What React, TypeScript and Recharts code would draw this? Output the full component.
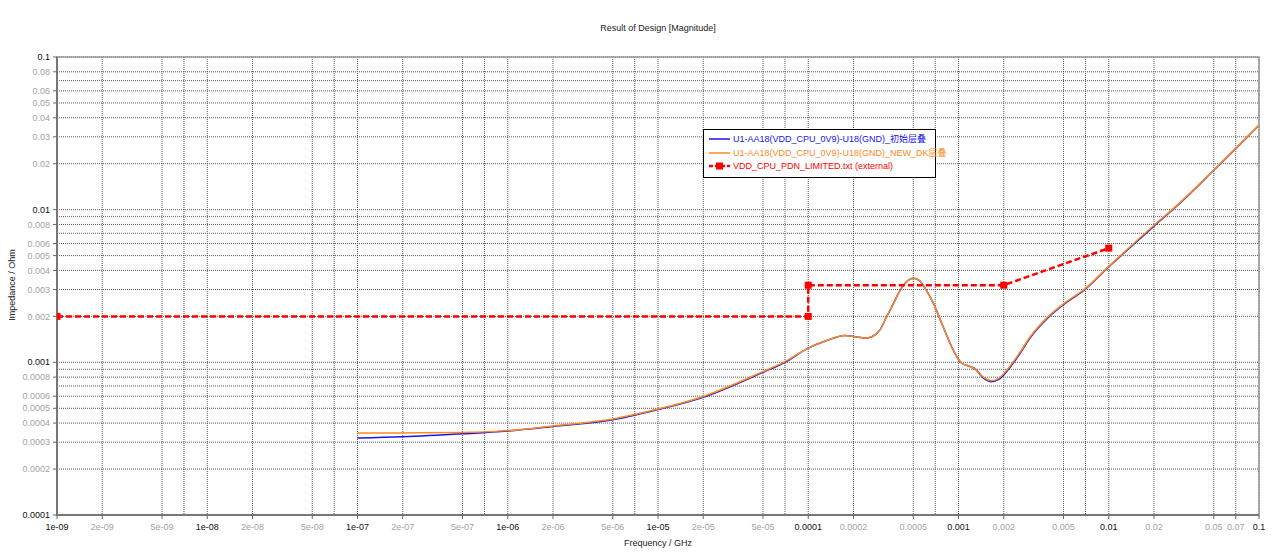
import React from "react";
import { LineChart, Line, XAxis, YAxis, CartesianGrid, Legend, ReferenceArea } from "recharts";

// frequency points (GHz) shared by both simulated curves
const FREQ = [
  1e-7, 2e-7, 5e-7, 1e-6, 2e-6, 5e-6, 1e-5, 2e-5, 5e-5, 7e-5,
  1e-4, 1.33e-4, 1.75e-4, 2.05e-4, 2.4e-4, 2.65e-4, 3e-4, 3.3e-4, 3.6e-4, 4.1e-4, 4.6e-4,
  5e-4, 5.5e-4, 6e-4, 6.8e-4, 7.9e-4, 9.2e-4, 1.05e-3, 1.2e-3, 1.3e-3, 1.45e-3,
  1.66e-3, 1.85e-3, 2.1e-3, 2.5e-3, 3e-3, 3.9e-3, 5.2e-3, 6.8e-3, 1e-2, 1.6e-2,
  2e-2, 3e-2, 5e-2, 7e-2, 1e-1,
];

// U1-AA18(VDD_CPU_0V9)-U18(GND)_初始层叠
const Z_INITIAL = [
  0.000319, 0.000325, 0.00034, 0.000355, 0.00038, 0.00042, 0.00049, 0.00059, 0.00086, 0.001,
  0.00124, 0.00139, 0.0015, 0.00147, 0.00144, 0.00147, 0.00163, 0.00196, 0.00231, 0.00298, 0.00343,
  0.00355, 0.00343, 0.00305, 0.00244, 0.00171, 0.00121, 0.000986, 0.000937, 0.0009, 0.000795,
  0.000745, 0.000772, 0.000875, 0.0011, 0.00145, 0.00194, 0.00246, 0.00295, 0.00422, 0.0064,
  0.0078, 0.0111, 0.0181, 0.0251, 0.0357,
];

// U1-AA18(VDD_CPU_0V9)-U18(GND)_NEW_DK层叠
const Z_NEW_DK = [
  0.000344, 0.000345, 0.000347, 0.000357, 0.000383, 0.000426, 0.000494, 0.000598, 0.00087, 0.00101,
  0.00124, 0.00139, 0.0015, 0.00147, 0.00144, 0.00147, 0.00163, 0.00196, 0.00231, 0.00298, 0.00343,
  0.00355, 0.00343, 0.00305, 0.00244, 0.00171, 0.00121, 0.000986, 0.000937, 0.0009, 0.000805,
  0.000758, 0.000785, 0.000891, 0.00112, 0.00147, 0.00197, 0.00249, 0.00298, 0.00425, 0.0065,
  0.0079, 0.0112, 0.0182, 0.0252, 0.0358,
];

// VDD_CPU_PDN_LIMITED.txt (external)
const LIMIT_FREQ = [1e-9, 1e-4, 1e-4, 2e-3, 1e-2];
const LIMIT_Z = [0.002, 0.002, 0.0032, 0.0032, 0.0056];

const SERIES_NAMES = [
  "U1-AA18(VDD_CPU_0V9)-U18(GND)_初始层叠",
  "U1-AA18(VDD_CPU_0V9)-U18(GND)_NEW_DK层叠",
  "VDD_CPU_PDN_LIMITED.txt (external)",
];
const SERIES_COLORS = ["#1515ee", "#ff8a1e", "#ff0000"];

// grid positions; "" = grid line without label
const X_TICKS = [
  1e-9, 2e-9, 5e-9, 7e-9, 1e-8, 2e-8, 5e-8, 7e-8, 1e-7, 2e-7, 5e-7, 7e-7,
  1e-6, 2e-6, 5e-6, 7e-6, 1e-5, 2e-5, 5e-5, 7e-5, 1e-4, 2e-4, 5e-4, 7e-4,
  1e-3, 2e-3, 5e-3, 7e-3, 1e-2, 2e-2, 5e-2, 7e-2, 1e-1,
];
const X_TICK_LABELS = [
  "1e-09", "2e-09", "5e-09", "", "1e-08", "2e-08", "5e-08", "", "1e-07", "2e-07", "5e-07", "",
  "1e-06", "2e-06", "5e-06", "", "1e-05", "2e-05", "5e-05", "", "0.0001", "0.0002", "0.0005", "",
  "0.001", "0.002", "0.005", "", "0.01", "0.02", "0.05", "0.07", "0.1",
];
const Y_TICKS = [
  1e-4, 2e-4, 3e-4, 4e-4, 5e-4, 6e-4, 7e-4, 8e-4, 9e-4,
  1e-3, 2e-3, 3e-3, 4e-3, 5e-3, 6e-3, 7e-3, 8e-3, 9e-3,
  1e-2, 2e-2, 3e-2, 4e-2, 5e-2, 6e-2, 7e-2, 8e-2, 1e-1,
];
const Y_TICK_LABELS = [
  "0.0001", "0.0002", "0.0003", "0.0004", "0.0005", "0.0006", "", "0.0008", "",
  "0.001", "0.002", "0.003", "0.004", "0.005", "0.006", "", "0.008", "",
  "0.01", "0.02", "0.03", "0.04", "0.05", "0.06", "", "0.08", "0.1",
];
const MAJOR_LABELS = [
  "1e-09", "1e-08", "1e-07", "1e-06", "1e-05", "0.0001", "0.001", "0.01", "0.1",
];

const FONT = "'Liberation Sans', Arial, 'Noto Sans CJK SC', sans-serif";

const initialData = FREQ.map((f, i) => ({ f, z: Z_INITIAL[i] }));
const newDkData = FREQ.map((f, i) => ({ f, z: Z_NEW_DK[i] }));
const limitData = LIMIT_FREQ.map((f, i) => ({ f, z: LIMIT_Z[i] }));

function findLabel(ticks: number[], labels: string[], v: number) {
  const i = ticks.findIndex((t) => Math.abs(t - v) / t < 1e-6);
  return i >= 0 ? labels[i] : "";
}

function XTick(props: any) {
  const { x, y, payload } = props;
  const label = findLabel(X_TICKS, X_TICK_LABELS, payload.value);
  if (!label) return <g />;
  const major = MAJOR_LABELS.includes(label);
  return (
    <g>
      <line x1={x} y1={y} x2={x} y2={y + 4} stroke="#666" />
      <text
        x={x}
        y={y + 15}
        textAnchor="middle"
        fontSize={9}
        fontFamily={FONT}
        fill={major ? "#111" : "#a3a3a3"}
      >
        {label}
      </text>
    </g>
  );
}

function YTick(props: any) {
  const { x, y, payload } = props;
  const label = findLabel(Y_TICKS, Y_TICK_LABELS, payload.value);
  if (!label) return <g />;
  const major = MAJOR_LABELS.includes(label);
  return (
    <g>
      <line x1={x - 4} y1={y} x2={x} y2={y} stroke="#666" />
      <text
        x={x - 7}
        y={y}
        dy="0.35em"
        textAnchor="end"
        fontSize={9}
        fontFamily={FONT}
        fill={major ? "#111" : "#a3a3a3"}
      >
        {label}
      </text>
    </g>
  );
}

function SquareDot(props: any) {
  const { cx, cy, index } = props;
  return <rect key={`sq-${index}`} x={cx - 3.5} y={cy - 3.5} width={7} height={7} fill="#ff0000" />;
}

function LegendBox() {
  return (
    <div
      style={{
        border: "1px solid #000",
        background: "#fff",
        padding: "2px 4px 4px 4px",
        fontFamily: FONT,
        fontSize: 9,
      }}
    >
      {SERIES_NAMES.map((name, i) => (
        <div key={name} style={{ display: "flex", alignItems: "center", height: 13.7, whiteSpace: "nowrap" }}>
          <svg width={25} height={10} style={{ flex: "none" }}>
            {i < 2 ? (
              <line x1={1} y1={5} x2={22} y2={5} stroke={SERIES_COLORS[i]} strokeWidth={1.5} />
            ) : (
              <g>
                <line x1={1} y1={5} x2={22} y2={5} stroke="#ff0000" strokeWidth={2.5} strokeDasharray="4 2" />
                <rect x={8} y={1.5} width={7} height={7} fill="#ff0000" />
              </g>
            )}
          </svg>
          <span style={{ color: SERIES_COLORS[i] }}>{name}</span>
        </div>
      ))}
    </div>
  );
}

export default function App() {
  return (
    <div style={{ position: "relative", width: 1280, height: 556, background: "#fff" }}>
      <style>{`body{margin:0}`}</style>
      <div
        style={{
          position: "absolute",
          left: 57,
          width: 1202,
          top: 22,
          lineHeight: "12px",
          textAlign: "center",
          fontFamily: FONT,
          fontSize: 9,
          color: "#222",
        }}
      >
        Result of Design [Magnitude]
      </div>
      <LineChart width={1280} height={556} margin={{ top: 57, right: 21, bottom: 0, left: 0 }}>
        <CartesianGrid stroke="#555" strokeDasharray="1 1" />
        <XAxis
          dataKey="f"
          type="number"
          scale="log"
          domain={[1e-9, 0.1]}
          allowDataOverflow
          ticks={X_TICKS}
          interval={0}
          tick={<XTick />}
          tickSize={0}
          tickMargin={0}
          tickLine={false}
          height={41}
          axisLine={{ stroke: "#777", strokeWidth: 2 }}
        />
        <YAxis
          dataKey="z"
          type="number"
          scale="log"
          domain={[1e-4, 0.1]}
          allowDataOverflow
          ticks={Y_TICKS}
          interval={0}
          tick={<YTick />}
          tickSize={0}
          tickMargin={0}
          tickLine={false}
          width={57}
          axisLine={{ stroke: "#777", strokeWidth: 2 }}
        />
        <ReferenceArea x1={1e-9} x2={0.1} y1={1e-4} y2={0.1} fill="none" stroke="#999" strokeWidth={1.5} />
        <Line
          data={initialData}
          dataKey="z"
          name={SERIES_NAMES[0]}
          type="monotone"
          stroke={SERIES_COLORS[0]}
          strokeWidth={1.5}
          dot={false}
          isAnimationActive={false}
        />
        <Line
          data={newDkData}
          dataKey="z"
          name={SERIES_NAMES[1]}
          type="monotone"
          stroke={SERIES_COLORS[1]}
          strokeWidth={1.5}
          dot={false}
          isAnimationActive={false}
        />
        <Line
          data={limitData}
          dataKey="z"
          name={SERIES_NAMES[2]}
          type="linear"
          stroke={SERIES_COLORS[2]}
          strokeWidth={2.5}
          strokeDasharray="6 3"
          dot={<SquareDot />}
          isAnimationActive={false}
        />
        <Legend
          layout="vertical"
          align="center"
          verticalAlign="middle"
          content={<LegendBox />}
          wrapperStyle={{ left: 703, top: 129, width: 233, height: "auto" }}
        />
      </LineChart>
      <div
        style={{
          position: "absolute",
          left: 57,
          width: 1202,
          top: 537,
          lineHeight: "12px",
          textAlign: "center",
          fontFamily: FONT,
          fontSize: 9,
          color: "#222",
        }}
      >
        Frequency / GHz
      </div>
      <div
        style={{
          position: "absolute",
          left: 12,
          top: 285,
          transform: "translate(-50%, -50%) rotate(-90deg)",
          whiteSpace: "nowrap",
          lineHeight: "12px",
          fontFamily: FONT,
          fontSize: 9,
          color: "#222",
        }}
      >
        Impedance / Ohm
      </div>
    </div>
  );
}
